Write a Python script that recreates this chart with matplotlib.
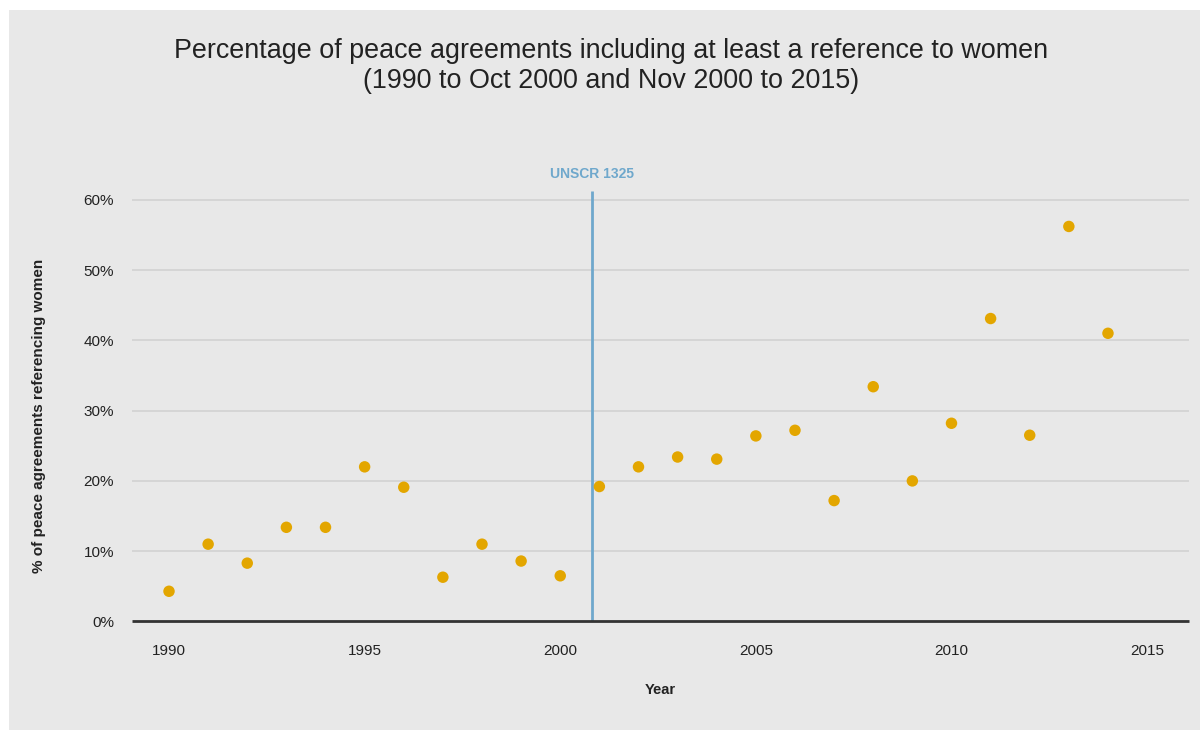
import matplotlib.pyplot as plt
from matplotlib.patches import Rectangle

# values
years = list(range(1990, 2015))
pct_women = [4.3, 11.0, 8.3, 13.4, 13.4, 22.0, 19.1, 6.3, 11.0, 8.6, 6.5,
             19.2, 22.0, 23.4, 23.1, 26.4, 27.2, 17.2, 33.4, 20.0, 28.2,
             43.1, 26.5, 56.2, 41.0]
y_ticks = [0, 10, 20, 30, 40, 50, 60]
y_tick_labels = ['0%', '10%', '20%', '30%', '40%', '50%', '60%']
x_ticks = [1990, 1995, 2000, 2005, 2010, 2015]
unscr_year = 2000.8

plt.rcParams['font.family'] = ['Liberation Sans', 'DejaVu Sans']

bg = '#e8e8e8'
fig = plt.figure(figsize=(12, 7.31), dpi=100, facecolor='white')
# grey panel with thin white margin on top and left
fig.patches.append(Rectangle((9 / 1200, 1 / 731), 1 - 9 / 1200, 720 / 731,
                             transform=fig.transFigure, facecolor=bg,
                             edgecolor='none', zorder=-10))

ax = fig.add_axes([0.11, 0.1498, 0.8808, 0.5962])
ax.patch.set_alpha(0)

for s in ax.spines.values():
    s.set_visible(False)

ax.set_xlim(1989.054, 2016.07)
ax.set_ylim(0, 62)

for yv in y_ticks[1:]:
    ax.axhline(yv, color='#d3d3d3', lw=1.3, zorder=1)
ax.axhline(0, color='#333333', lw=2.0, zorder=3, clip_on=False,
           solid_capstyle='butt')

ax.vlines(unscr_year, 0, 61.3, color='#6fa8cc', lw=2, zorder=2)
ax.text(unscr_year, 62.6, 'UNSCR 1325', color='#6fa8cc', fontsize=10,
        fontweight='bold', ha='center', va='bottom', clip_on=False)

ax.scatter(years, pct_women, s=68, color='#e3a600', edgecolors='none', zorder=4)

ax.set_yticks(y_ticks)
ax.set_yticklabels(y_tick_labels)
ax.set_xticks(x_ticks)
ax.set_xticklabels([str(x) for x in x_ticks])
ax.tick_params(axis='both', length=0, labelsize=11, colors='#222222')
ax.tick_params(axis='y', pad=13)
ax.tick_params(axis='x', pad=16.5)

ax.set_xlabel('Year', fontsize=10.5, fontweight='bold', labelpad=18, color='#222222')
fig.text(39 / 1200, 1 - 416 / 731, '% of peace agreements referencing women',
         rotation=90, fontsize=11, fontweight='bold', ha='center', va='center',
         color='#222222')

fig.text(611 / 1200, 1 - 66 / 731,
         'Percentage of peace agreements including at least a reference to women\n'
         '(1990 to Oct 2000 and Nov 2000 to 2015)',
         fontsize=19.4, ha='center', va='center', color='#222222', linespacing=1.2)

fig.savefig('out.png', dpi=100, facecolor='white')
